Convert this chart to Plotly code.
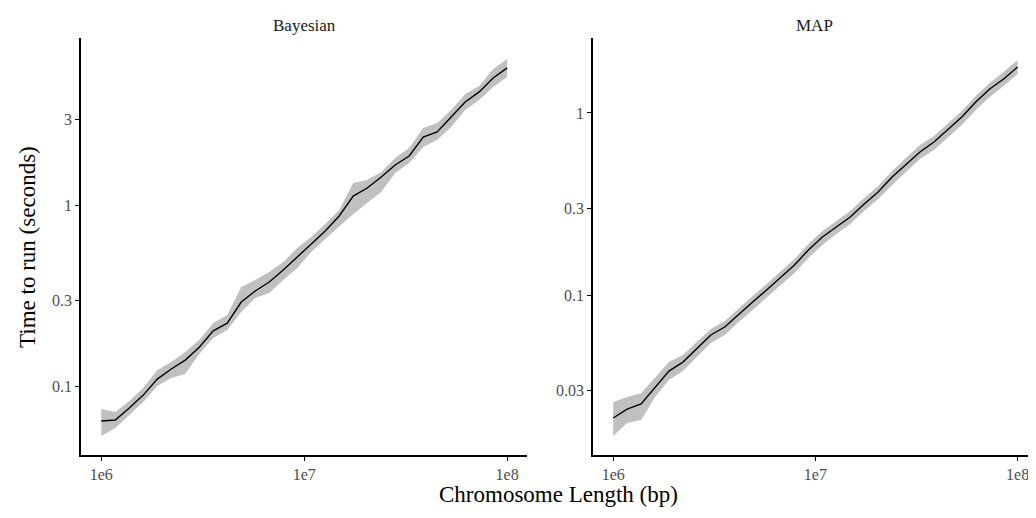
import plotly.graph_objects as go

# Chromosome lengths (bp)
chrom_len = [1.000e6, 1.172e6, 1.374e6, 1.610e6, 1.887e6, 2.212e6, 2.593e6, 3.039e6,
             3.562e6, 4.175e6, 4.894e6, 5.736e6, 6.723e6, 7.880e6, 9.237e6, 1.0826e7,
             1.269e7, 1.487e7, 1.743e7, 2.043e7, 2.395e7, 2.807e7, 3.290e7, 3.857e7,
             4.520e7, 5.298e7, 6.210e7, 7.279e7, 8.532e7, 1.000e8]

# Bayesian: median time and ribbon bounds (seconds)
bayes_mid = [0.0645, 0.0653, 0.0761, 0.0897, 0.110, 0.125, 0.140, 0.165, 0.203, 0.224,
             0.293, 0.337, 0.378, 0.440, 0.519, 0.613, 0.723, 0.875, 1.128, 1.249,
             1.437, 1.674, 1.877, 2.390, 2.547, 3.083, 3.731, 4.238, 5.064, 5.751]
bayes_hi = [0.0751, 0.0723, 0.0832, 0.0981, 0.1234, 0.1366, 0.1551, 0.1806, 0.2243, 0.2483,
            0.3546, 0.3877, 0.4291, 0.4874, 0.5823, 0.6698, 0.7901, 0.9444, 1.331, 1.383,
            1.531, 1.830, 2.078, 2.681, 2.856, 3.371, 4.130, 4.574, 5.677, 6.447]
bayes_lo = [0.0533, 0.0590, 0.0696, 0.0821, 0.1006, 0.1114, 0.1173, 0.1512, 0.1853, 0.2052,
            0.2580, 0.3083, 0.3285, 0.3877, 0.4515, 0.5534, 0.6532, 0.7703, 0.8976, 1.032,
            1.188, 1.512, 1.717, 2.105, 2.301, 2.715, 3.371, 3.827, 4.516, 5.129]

# MAP: median time and ribbon bounds (seconds)
map_mid = [0.0211, 0.0236, 0.0252, 0.0312, 0.0382, 0.0428, 0.0505, 0.0603, 0.0667, 0.0786,
           0.0915, 0.1065, 0.1256, 0.1462, 0.1768, 0.2083, 0.2363, 0.2683, 0.3162, 0.3681,
           0.4451, 0.5245, 0.6105, 0.6929, 0.8065, 0.9507, 1.149, 1.355, 1.537, 1.789]
map_hi = [0.0258, 0.0275, 0.0289, 0.0350, 0.0428, 0.0468, 0.0552, 0.0650, 0.0720, 0.0848,
          0.0988, 0.1149, 0.1354, 0.1577, 0.1906, 0.2247, 0.2550, 0.2894, 0.3411, 0.3971,
          0.4800, 0.5659, 0.6670, 0.7475, 0.8812, 1.026, 1.240, 1.461, 1.680, 1.955]
map_lo = [0.0168, 0.0198, 0.0206, 0.0275, 0.0341, 0.0382, 0.0456, 0.0545, 0.0603, 0.0711,
          0.0827, 0.0963, 0.1135, 0.1321, 0.1597, 0.1883, 0.2163, 0.2455, 0.2894, 0.3369,
          0.4021, 0.4740, 0.5590, 0.6262, 0.7290, 0.8592, 1.039, 1.224, 1.407, 1.638]

panel_titles = ["Bayesian", "MAP"]
x_ticks = [1e6, 1e7, 1e8]
x_ticktext = ["1e6", "1e7", "1e8"]
y1_ticks = [0.1, 0.3, 1, 3]
y1_ticktext = ["0.1", "0.3", "1", "3"]
y2_ticks = [0.03, 0.1, 0.3, 1]
y2_ticktext = ["0.03", "0.1", "0.3", "1"]

FONT = "Liberation Serif"
RIBBON = "rgb(192,192,192)"

fig = go.Figure()

for (mid, hi, lo, xa, ya) in [(bayes_mid, bayes_hi, bayes_lo, "x", "y"),
                              (map_mid, map_hi, map_lo, "x2", "y2")]:
    fig.add_trace(go.Scatter(x=chrom_len, y=hi, mode="lines", line=dict(width=0, color=RIBBON),
                             xaxis=xa, yaxis=ya, showlegend=False, hoverinfo="skip"))
    fig.add_trace(go.Scatter(x=chrom_len, y=lo, mode="lines", line=dict(width=0, color=RIBBON),
                             fill="tonexty", fillcolor=RIBBON,
                             xaxis=xa, yaxis=ya, showlegend=False, hoverinfo="skip"))
    fig.add_trace(go.Scatter(x=chrom_len, y=mid, mode="lines", line=dict(width=1.4, color="black"),
                             xaxis=xa, yaxis=ya, showlegend=False))

axis_common = dict(type="log", showline=True, linecolor="black", linewidth=1.5,
                   ticks="outside", ticklen=4, tickwidth=1.2, tickcolor="black",
                   showgrid=False, zeroline=False, mirror=False,
                   tickfont=dict(family=FONT, size=16, color="#4d4d4d"))

# page body has an 8px margin, so the figure is 8px smaller and margins shifted
fig.update_layout(
    width=1028, height=510,
    margin=dict(l=73, r=0, t=30, b=63),
    plot_bgcolor="white", paper_bgcolor="white",
    font=dict(family=FONT, color="black"),
    xaxis=dict(axis_common, domain=[0, 0.4675], range=[5.9, 8.1], anchor="y",
               tickvals=x_ticks, ticktext=x_ticktext),
    xaxis2=dict(axis_common, domain=[0.5361, 1.0], range=[5.9, 8.091], anchor="y2",
                tickvals=x_ticks, ticktext=x_ticktext),
    yaxis=dict(axis_common, domain=[0, 1], range=[-1.378, 0.925], anchor="x",
               tickvals=y1_ticks, ticktext=y1_ticktext),
    yaxis2=dict(axis_common, domain=[0, 1], range=[-1.879, 0.412], anchor="x2",
                tickvals=y2_ticks, ticktext=y2_ticktext),
)

fig.add_annotation(text=panel_titles[0], xref="paper", yref="paper", x=0.4675 / 2, y=1.031,
                   xanchor="center", yanchor="middle", showarrow=False,
                   font=dict(family=FONT, size=17, color="#1a1a1a"))
fig.add_annotation(text=panel_titles[1], xref="paper", yref="paper", x=(0.5361 + 1.0) / 2, y=1.031,
                   xanchor="center", yanchor="middle", showarrow=False,
                   font=dict(family=FONT, size=17, color="#1a1a1a"))
fig.add_annotation(text="Time to run (seconds)", xref="paper", yref="paper", x=-0.0555, y=0.499,
                   xanchor="center", yanchor="middle", textangle=-90, showarrow=False,
                   font=dict(family=FONT, size=23, color="black"))
fig.add_annotation(text="Chromosome Length (bp)", xref="paper", yref="paper", x=0.4995, y=-0.0955,
                   xanchor="center", yanchor="middle", showarrow=False,
                   font=dict(family=FONT, size=23, color="black"))

fig.write_html("out.html")
